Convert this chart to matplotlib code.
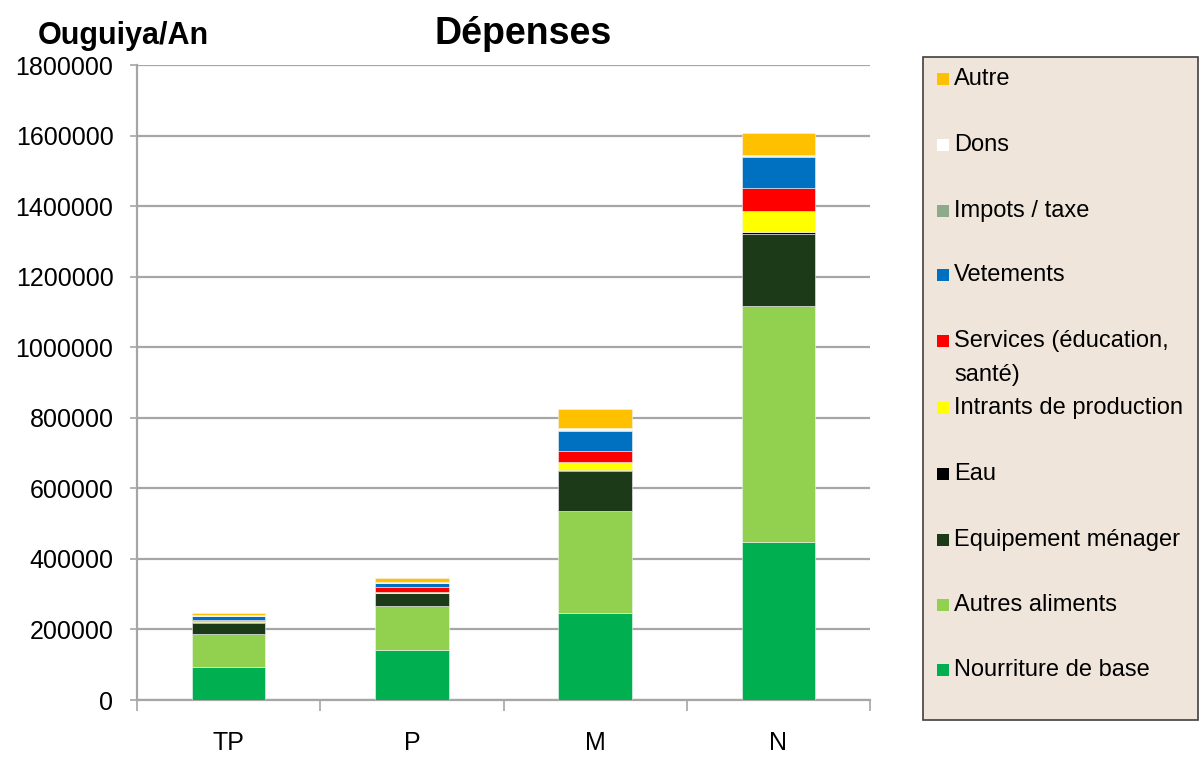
import numpy as np
import matplotlib.pyplot as plt
from matplotlib.patches import Rectangle

plt.rcParams['font.family'] = ['Liberation Sans', 'DejaVu Sans']

categories = ['TP', 'P', 'M', 'N']

# stacked from the bottom up
series = ['Nourriture de base', 'Autres aliments', 'Equipement ménager', 'Eau',
          'Intrants de production', 'Services (éducation,\nsanté)', 'Vetements',
          'Impots / taxe', 'Dons', 'Autre']
colors = ['#00B050', '#92D050', '#1C3A18', '#000000', '#FFFF00', '#FF0000',
          '#0070C0', '#8DAA8A', '#FFFFFF', '#FFC000']

nourriture = [93000, 143000, 247000, 449000]
autres_aliments = [94000, 123000, 290000, 669000]
equipement = [32000, 36000, 113000, 204000]
eau = [2000, 2000, 2000, 4000]
intrants = [2000, 3000, 22000, 60000]
services = [5000, 14000, 32000, 65000]
vetements = [10000, 11000, 57000, 89000]
impots = [1000, 1000, 2000, 2000]
dons = [1000, 2000, 7000, 4000]
autre = [7000, 11000, 52000, 60000]

values = [nourriture, autres_aliments, equipement, eau, intrants, services,
          vetements, impots, dons, autre]

fig = plt.figure(figsize=(12.03, 7.58), dpi=100)
ax = fig.add_axes([0.1139, 0.0765, 0.6093, 0.8377])

x = np.arange(len(categories))
bottom = np.zeros(len(categories))
for name, col, vals in zip(series, colors, values):
    ax.bar(x, vals, 0.4, bottom=bottom, color=col, edgecolor='#F4F4F4',
           linewidth=0.4, zorder=3)
    bottom += np.array(vals)

ax.set_ylim(0, 1800000)
ax.set_xlim(-0.5, 3.5)
ax.set_yticks(np.arange(0, 1800001, 200000))
ax.set_yticklabels([str(v) for v in range(0, 1800001, 200000)], fontsize=18)
ax.yaxis.grid(True, color='#A6A6A6', linewidth=1.6, zorder=0)
ax.tick_params(axis='y', length=5, width=1.2, color='#A6A6A6', pad=12)

ax.set_xticks(np.arange(-0.5, 4, 1))
ax.set_xticklabels([])
ax.tick_params(axis='x', which='major', length=8, width=1.2, color='#A6A6A6')
ax.set_xticks(x, minor=True)
ax.set_xticklabels(categories, minor=True, fontsize=18)
ax.tick_params(axis='x', which='minor', length=0, pad=22)

for s in ['top', 'right']:
    ax.spines[s].set_visible(False)
for s in ['left', 'bottom']:
    ax.spines[s].set_color('#A6A6A6')
    ax.spines[s].set_linewidth(1.6)

fig.text(0.435, 0.955, 'Dépenses', fontsize=27, fontweight='bold',
         ha='center', va='center')
fig.text(0.031, 0.952, 'Ouguiya/An', fontsize=22, fontweight='bold',
         ha='left', va='center')

# legend panel
W, H = 1203.0, 758.0
fig.patches.append(Rectangle((923 / W, 1 - 720 / H), 275 / W, 663 / H,
                             transform=fig.transFigure, facecolor='#EFE5DA',
                             edgecolor='#404040', linewidth=1.2))
ys = [79, 145, 211, 275, 341, 408, 474, 540, 605, 670]
for (name, col), yy in zip(list(zip(series, colors))[::-1], ys):
    fig.patches.append(Rectangle((937 / W, 1 - (yy + 6) / H), 12 / W, 12 / H,
                                 transform=fig.transFigure, facecolor=col,
                                 edgecolor='none'))
    if '\n' in name:
        first, second = name.split('\n')
        fig.text(954 / W, 1 - yy / H, first, fontsize=17, ha='left',
                 va='center')
        fig.text(954 / W, 1 - (yy + 34) / H, second, fontsize=17, ha='left',
                 va='center')
    else:
        fig.text(954 / W, 1 - yy / H, name, fontsize=17, ha='left',
                 va='center')

fig.savefig('out.png', dpi=100)
